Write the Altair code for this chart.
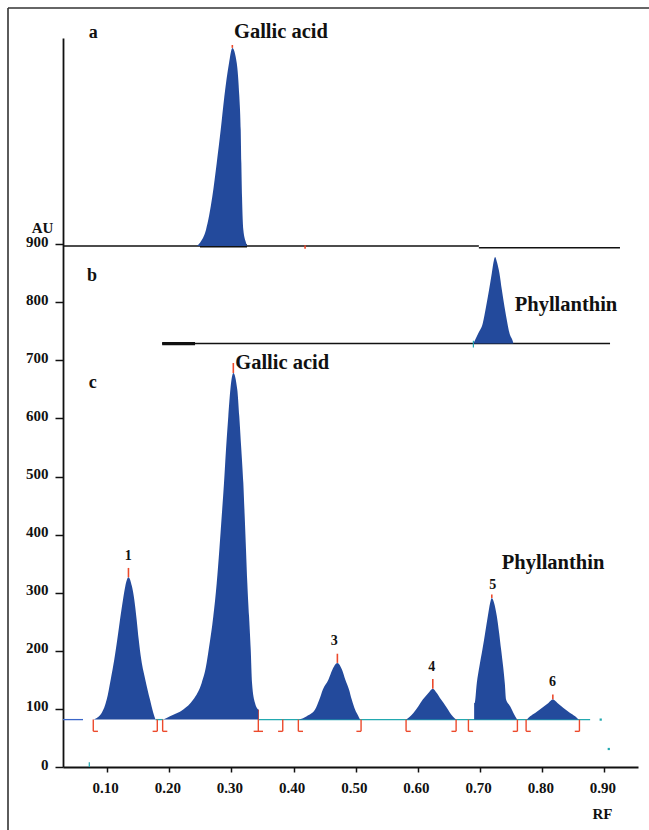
import altair as alt
import pandas as pd

# ---------------- colours / fonts ----------------
BLUE = "#234a9c"
RED = "#ec4a2c"
TEAL = "#22a9b0"
INK = "#111111"
FONT = "Liberation Serif"

# ---------------- scales ----------------
RF_DOMAIN = [0.029, 0.954]
AU_DOMAIN = [0, 1255]
X_TICKS = [0.10, 0.20, 0.30, 0.40, 0.50, 0.60, 0.70, 0.80, 0.90]
Y_TICKS = [0, 100, 200, 300, 400, 500, 600, 700, 800, 900]

# ---------------- panel a : gallic acid standard ----------------
A_BASE = 897
a_rf = [0.2446, 0.2494, 0.2591, 0.2692, 0.2763, 0.2827, 0.2885, 0.2961, 0.3014,
        0.3085, 0.3127, 0.3149, 0.3159, 0.3170, 0.3191, 0.3234, 0.3250]
a_au = [897, 902.6, 925, 982, 1040, 1097, 1154, 1212, 1238,
        1212, 1154, 1097, 1040, 982, 925, 902.6, 897]

# ---------------- panel b : phyllanthin standard ----------------
B_BASE = 729
b_rf = [0.6892, 0.6973, 0.7043, 0.7097, 0.7145, 0.7188, 0.7214, 0.7241,
        0.7274, 0.7311, 0.7349, 0.7391, 0.7439, 0.7472, 0.7526, 0.7536]
b_au = [729, 747, 764, 793, 822, 850, 868, 878,
        868, 850, 822, 793, 764, 747, 733, 729]

# ---------------- panel c : sample track ----------------
C_BASE = 81.6
p1_rf = [0.0777, 0.0912, 0.0993, 0.1057, 0.1115, 0.1163, 0.1207, 0.1255, 0.1292, 0.1343,
         0.1399, 0.1437, 0.1475, 0.1508, 0.1549, 0.1614, 0.1689, 0.1743, 0.1778]
p1_au = [81.6, 93.1, 116.0, 150.4, 184.9, 219.3, 253.7, 288.1, 311.0, 326.5,
         311.0, 288.1, 253.7, 219.3, 184.9, 150.4, 116.0, 93.1, 81.6]

p2_rf = [0.1903, 0.2011, 0.2225, 0.2386, 0.2521, 0.2591, 0.2634, 0.2708, 0.2763, 0.2805,
         0.2843, 0.2880, 0.2912, 0.2949, 0.2982, 0.3030, 0.3094, 0.3126, 0.3159, 0.3191,
         0.3213, 0.3234, 0.3255, 0.3283, 0.3310, 0.3331, 0.3379, 0.3432]
p2_au = [81.6, 87.3, 98.8, 116.0, 144.8, 173.3, 202.1, 259.4, 316.9, 374.2,
         431.5, 489.0, 546.3, 603.6, 649.6, 678.3, 649.6, 603.6, 546.3, 489.0,
         431.5, 374.2, 316.9, 259.4, 202.1, 144.8, 110.3, 98.8]

p3_rf = [0.4092, 0.4211, 0.4345, 0.4414, 0.4469, 0.4559, 0.4623, 0.4704,
         0.4779, 0.4832, 0.4892, 0.4935, 0.4988, 0.5042, 0.5069]
p3_au = [81.6, 87.3, 98.8, 116.0, 133.2, 150.4, 167.6, 179.2,
         167.6, 150.4, 133.2, 116.0, 98.8, 87.3, 81.6]

p4_rf = [0.5810, 0.5927, 0.6007, 0.6078, 0.6168, 0.6239, 0.6303, 0.6372, 0.6448, 0.6517, 0.6614]
p4_au = [81.6, 93.1, 104.5, 116.0, 127.5, 134.9, 127.5, 116.0, 104.5, 93.1, 81.6]

p5_rf = [0.6904, 0.6912, 0.6947, 0.6989, 0.7037, 0.7081, 0.7124, 0.7161, 0.7188,
         0.7225, 0.7269, 0.7306, 0.7338, 0.7370, 0.7397, 0.7418, 0.7483, 0.7536, 0.7596]
p5_au = [110.3, 110.3, 144.8, 173.3, 202.1, 230.8, 259.4, 282.4, 291.0,
         282.4, 259.4, 230.8, 202.1, 173.3, 144.8, 116.0, 104.5, 93.1, 81.6]

p6_rf = [0.7752, 0.7805, 0.7885, 0.7993, 0.8099, 0.8170, 0.8244, 0.8341, 0.8448, 0.8529, 0.8582]
p6_au = [81.6, 87.3, 93.1, 101.7, 110.3, 116.0, 110.3, 101.7, 93.1, 87.3, 81.6]

# baselines: (rf start, rf end, AU, colour, width)
baselines = [
    (0.029, 0.698, 897, INK, 1.6),
    (0.698, 0.925, 894, INK, 1.6),
    (0.2494, 0.325, 897, INK, 3.2),
    (0.1885, 0.909, 729, INK, 1.6),
    (0.1885, 0.2414, 729, INK, 3.2),
    (0.029, 0.0612, C_BASE, "#3a66c8", 1.3),
    (0.1778, 0.1903, C_BASE, TEAL, 1.3),
    (0.3432, 0.877, C_BASE, TEAL, 1.3),
]

# red apex marks: rf, AU bottom, AU top
apex_rf = [0.3014, 0.1343, 0.3030, 0.4704, 0.6239, 0.7188, 0.8170, 0.4184]
apex_lo = [1238, 326.5, 678.3, 179.2, 134.9, 291.0, 116.0, 892]
apex_hi = [1243, 342.7, 695.5, 195.0, 151.6, 297.0, 124.6, 898]

# integration brackets in panel c
start_rf = [0.0777, 0.1893, 0.4076, 0.5809, 0.6812, 0.7740]
end_rf = [0.1807, 0.3825, 0.5085, 0.6614, 0.7600, 0.8598]
tee_rf = [0.3432]
BR_LOW = 61.4
FOOT = 0.0075

# text annotations
name_text = ["Gallic acid", "Phyllanthin", "Gallic acid", "Phyllanthin"]
name_rf = [0.3040, 0.7557, 0.3060, 0.7349]
name_au = [1266, 796, 696, 352]

letter_text = ["a", "b", "c"]
letter_rf = [0.0778, 0.0756, 0.0767]
letter_au = [1264, 846, 661]

num_text = ["1", "3", "4", "5", "6"]
num_rf = [0.1339, 0.4655, 0.6223, 0.7205, 0.8164]
num_au = [362.6, 216.4, 172.3, 313.9, 146.5]

# ---------------- tables ----------------
peaks = [("a", a_rf, a_au, A_BASE), ("b", b_rf, b_au, B_BASE),
         ("c1", p1_rf, p1_au, C_BASE), ("c2", p2_rf, p2_au, C_BASE),
         ("c3", p3_rf, p3_au, C_BASE), ("c4", p4_rf, p4_au, C_BASE),
         ("c5", p5_rf, p5_au, C_BASE), ("c6", p6_rf, p6_au, C_BASE)]

rule_rows = []
for r1, r2, v, c, w in baselines:
    rule_rows.append({"rf": r1, "rf2": r2, "au": v, "au2": v, "c": c, "w": w})
for r, lo, hi in zip(apex_rf, apex_lo, apex_hi):
    rule_rows.append({"rf": r, "rf2": r, "au": lo, "au2": hi, "c": RED, "w": 1.6})
for r in start_rf:
    rule_rows.append({"rf": r, "rf2": r, "au": C_BASE, "au2": BR_LOW, "c": RED, "w": 1.4})
    rule_rows.append({"rf": r, "rf2": r + FOOT, "au": BR_LOW, "au2": BR_LOW, "c": RED, "w": 1.4})
for r in end_rf:
    rule_rows.append({"rf": r, "rf2": r, "au": C_BASE, "au2": BR_LOW, "c": RED, "w": 1.4})
    rule_rows.append({"rf": r - FOOT, "rf2": r, "au": BR_LOW, "au2": BR_LOW, "c": RED, "w": 1.4})
for r in tee_rf:
    rule_rows.append({"rf": r, "rf2": r, "au": 98.8, "au2": BR_LOW, "c": RED, "w": 1.4})
    rule_rows.append({"rf": r - FOOT, "rf2": r + FOOT, "au": BR_LOW, "au2": BR_LOW, "c": RED, "w": 1.4})
rule_rows.append({"rf": 0.0713, "rf2": 0.0713, "au": 0, "au2": 8, "c": TEAL, "w": 1.2})
rule_rows.append({"rf": 0.6892, "rf2": 0.6892, "au": 722, "au2": 734, "c": TEAL, "w": 1.2})
rules_df = pd.DataFrame(rule_rows)

dots_df = pd.DataFrame({"rf": [0.894, 0.907], "au": [C_BASE, 31]})

names_df = pd.DataFrame({"rf": name_rf, "au": name_au, "t": name_text})
letters_df = pd.DataFrame({"rf": letter_rf, "au": letter_au, "t": letter_text})
nums_df = pd.DataFrame({"rf": num_rf, "au": num_au, "t": num_text})

# ---------------- encodings ----------------
XS = alt.Scale(domain=RF_DOMAIN, nice=False, zero=False)
YS = alt.Scale(domain=AU_DOMAIN, nice=False, zero=False)
X_AXIS = alt.Axis(values=X_TICKS, format=".2f", grid=False, domainColor=INK, domainWidth=2,
                  tickColor=INK, tickWidth=1.5, tickSize=5, labelPadding=8, labelOffset=-2,
                  labelFont=FONT, labelFontWeight="bold", labelFontSize=15, labelColor=INK,
                  title="RF", titleFont=FONT, titleFontWeight="bold", titleFontSize=15,
                  titleColor=INK, titleX=539, titleY=46, titleAlign="center",
                  titleBaseline="middle", labelFlush=False)
Y_AXIS = alt.Axis(values=Y_TICKS, format="d", grid=False, domainColor=INK, domainWidth=1.8,
                  tickColor=INK, tickWidth=1.5, tickSize=8, labelPadding=7, labelOffset=-3,
                  labelFont=FONT, labelFontWeight="bold", labelFontSize=15, labelColor=INK,
                  title="AU", titleAngle=0, titleX=-21, titleY=189, titleAlign="center",
                  titleBaseline="middle", titleFont=FONT, titleFontWeight="bold",
                  titleFontSize=15, titleColor=INK, labelFlush=False)
X = alt.X("rf:Q", scale=XS, axis=X_AXIS)
Y = alt.Y("au:Q", scale=YS, axis=Y_AXIS)
Y_AREA = alt.Y("au:Q", scale=YS, axis=Y_AXIS, stack=None)

area_layers = []
for name, rfs, aus, base in peaks:
    df = pd.DataFrame({"rf": rfs, "au": aus, "base": [base] * len(rfs)})
    area_layers.append(
        alt.Chart(df).mark_area(color=BLUE, fillOpacity=1, interpolate="monotone").encode(
            x=X, y=Y_AREA, y2="base:Q",
        )
    )

base_rules = alt.Chart(rules_df).mark_rule().encode(
    x=X, x2="rf2:Q", y=Y, y2="au2:Q",
    color=alt.Color("c:N", scale=None),
    strokeWidth=alt.StrokeWidth("w:Q", scale=None),
)

dots = alt.Chart(dots_df).mark_square(color=TEAL, size=5, opacity=1).encode(x=X, y=Y)

names = alt.Chart(names_df).mark_text(
    align="left", baseline="middle", font=FONT, fontWeight="bold", fontSize=20.5, color=INK
).encode(x=X, y=Y, text="t:N")

letters = alt.Chart(letters_df).mark_text(
    align="center", baseline="middle", font=FONT, fontWeight="bold", fontSize=18, color=INK
).encode(x=X, y=Y, text="t:N")

nums = alt.Chart(nums_df).mark_text(
    align="center", baseline="middle", font=FONT, fontWeight="bold", fontSize=14, color=INK
).encode(x=X, y=Y, text="t:N")

frame_df = pd.DataFrame({"k": [0]})
frame_top = alt.Chart(frame_df).mark_rule(color="#333333", strokeWidth=1.6).encode(
    x=alt.value(-55), x2=alt.value(586), y=alt.value(-30))
frame_left = alt.Chart(frame_df).mark_rule(color="#333333", strokeWidth=1.6).encode(
    x=alt.value(-55), y=alt.value(-30), y2=alt.value(792))

chart = alt.layer(
    base_rules, *area_layers, dots, names, letters, nums, frame_top, frame_left
).properties(
    width=575, height=729,
    autosize=alt.AutoSizeParams(type="none"),
    padding={"left": 63, "top": 38, "right": 11, "bottom": 63},
    background="white",
).configure_view(stroke=None)

chart.save("out.html", embed_options={"renderer": "svg", "actions": False})
